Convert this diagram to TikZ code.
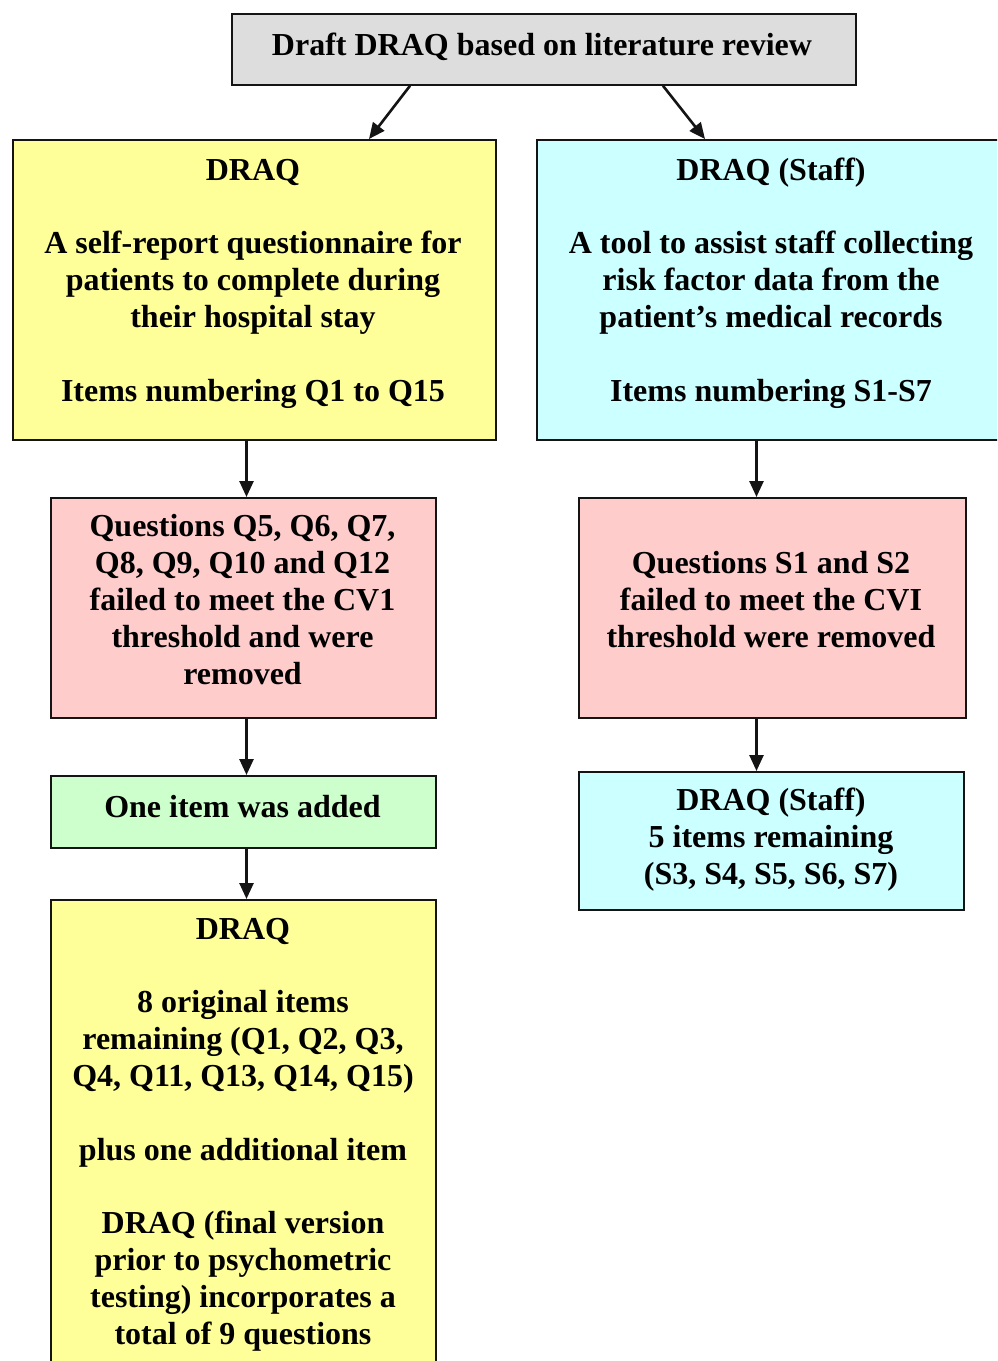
\documentclass[tikz,border=0pt]{standalone}
\usepackage{fontspec}
\setmainfont{Liberation Serif}
\usetikzlibrary{arrows.meta}
\definecolor{boxgray}{HTML}{DDDDDD}
\definecolor{boxyellow}{HTML}{FFFF99}
\definecolor{boxcyan}{HTML}{CCFFFF}
\definecolor{boxpink}{HTML}{FFCCCC}
\definecolor{boxgreen}{HTML}{CCFFCC}
\definecolor{edge}{HTML}{141414}
\begin{document}
\begin{tikzpicture}[x=1pt,y=-1pt,
  frame/.style={draw=edge, line width=1.8pt, inner sep=0pt, anchor=north west},
  % multi-line texts are placed by the baseline of their last line
  txt/.style={font=\fontsize{32}{36.8}\selectfont\bfseries, align=center, inner sep=0pt, anchor=base},
  arr/.style={draw=edge, line width=2.6pt, -{Triangle[length=16pt,width=14pt]}}]
\useasboundingbox (0,0) rectangle (997,1361);
\clip (0,0) rectangle (997,1361);

% boxes
\node[frame, fill=boxgray,   minimum width=624pt, minimum height=71pt]  (top)    at (231,13)  {};
\node[frame, fill=boxyellow, minimum width=483pt, minimum height=300pt] (dq)     at (12,139)  {};
\node[frame, fill=boxcyan,   minimum width=470pt, minimum height=300pt] (staff)  at (536,139) {};
\node[frame, fill=boxpink,   minimum width=385pt, minimum height=220pt] (qrm)    at (50,497)  {};
\node[frame, fill=boxpink,   minimum width=387pt, minimum height=220pt] (srm)    at (578,497) {};
\node[frame, fill=boxgreen,  minimum width=385pt, minimum height=72pt]  (add)    at (50,775)  {};
\node[frame, fill=boxcyan,   minimum width=385pt, minimum height=138pt] (staff2) at (578,771) {};
\node[frame, fill=boxyellow, minimum width=385pt, minimum height=500pt] (final)  at (50,899)  {};

% texts
\node[txt] (top-t) at (542,55) {Draft DRAQ based on literature review};
\node[txt] (dq-t) at (253,401) {DRAQ\\~\\A self-report questionnaire for\\patients to complete during\\their hospital stay\\~\\Items numbering Q1 to Q15};
\node[txt] (staff-t) at (771,401) {DRAQ (Staff)\\~\\A tool to assist staff collecting\\risk factor data from the\\patient’s medical records\\~\\Items numbering S1-S7};
\node[txt] (qrm-t) at (242.5,684) {Questions Q5, Q6, Q7,\\Q8, Q9, Q10 and Q12\\failed to meet the CV1\\threshold and were\\removed};
\node[txt] (srm-t) at (771,647) {Questions S1 and S2\\failed to meet the CVI\\threshold were removed};
\node[txt] (add-t) at (242.5,817) {One item was added};
\node[txt] (staff2-t) at (771,884) {DRAQ (Staff)\\5 items remaining\\(S3, S4, S5, S6, S7)};
\node[txt] (final-t) at (243,1344) {DRAQ\\~\\8 original items\\remaining (Q1, Q2, Q3,\\Q4, Q11, Q13, Q14, Q15)\\~\\plus one additional item\\~\\DRAQ (final version\\prior to psychometric\\testing) incorporates a\\total of 9 questions};

% connectors
\draw[arr] (410,0 |- top.south) -- (369,0 |- dq.north);
\draw[arr] (663,0 |- top.south) -- (705,0 |- staff.north);
\draw[arr] (246.5,0 |- dq.south) -- (246.5,0 |- qrm.north);
\draw[arr] (756.5,0 |- staff.south) -- (756.5,0 |- srm.north);
\draw[arr] (246.5,0 |- qrm.south) -- (246.5,0 |- add.north);
\draw[arr] (756.5,0 |- srm.south) -- (756.5,0 |- staff2.north);
\draw[arr] (246.5,0 |- add.south) -- (246.5,0 |- final.north);
\end{tikzpicture}
\end{document}
